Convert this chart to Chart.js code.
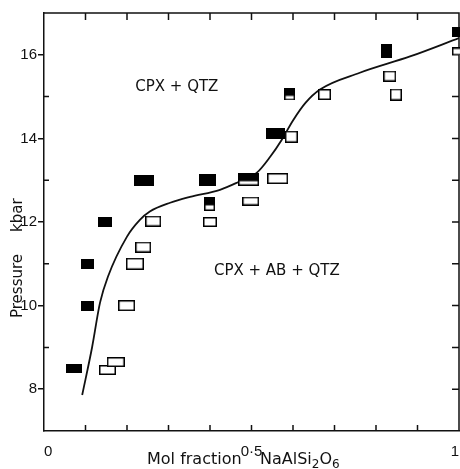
<!DOCTYPE html>
<html>
<head>
<meta charset="utf-8">
<script src="https://cdn.jsdelivr.net/npm/chart.js@4.4.1/dist/chart.umd.min.js"></script>
<style>
  html, body { margin: 0; padding: 0; background: #fff; }
  #wrap { width: 460px; height: 469px; }
</style>
</head>
<body>
<div id="wrap"><canvas id="c" width="460" height="469"></canvas></div>
<script>
// solid boxes (mol fraction NaAlSi2O6, pressure kbar)
var filledX = [0.072, 0.106, 0.106, 0.147, 0.241, 0.395, 0.399, 0.493, 0.558, 0.592, 0.825, 0.995];
var filledP = [8.49, 10.0, 11.0, 12.0, 13.0, 13.0, 12.52, 13.1, 14.11, 15.13, 16.10, 16.55];

// open boxes
var openX = [0.153, 0.173, 0.199, 0.219, 0.239, 0.263, 0.400, 0.399, 0.493, 0.498, 0.563, 0.596, 0.592, 0.676, 0.833, 0.848, 0.995];
var openP = [8.46, 8.65, 10.0, 11.0, 11.4, 12.02, 12.0, 12.35, 12.94, 12.50, 13.04, 14.04, 14.98, 15.05, 15.49, 15.05, 16.08];

// phase boundary
var curveX = [0.092, 0.116, 0.135, 0.154, 0.2, 0.231, 0.255, 0.304, 0.352, 0.424, 0.465, 0.513, 0.545, 0.573, 0.6, 0.63, 0.665, 0.761, 0.882, 1.0];
var curveP = [7.86, 9.01, 10.07, 10.69, 11.65, 12.05, 12.25, 12.46, 12.6, 12.77, 12.94, 13.18, 13.56, 13.97, 14.43, 14.85, 15.17, 15.57, 15.96, 16.4];

var xTicks = [0, 0.5, 1];
var xTickLabels = ['0', '0·5', '1'];
var yTicks = [8, 10, 12, 14, 16];
var yTickLabels = ['8', '10', '12', '14', '16'];

// box sizes in px, same order as the points
var filledSize = [[16, 9], [13, 10], [13, 10], [14, 10], [20, 11], [17, 12], [11, 7], [21, 7], [19, 11], [11, 7], [11, 14], [10, 10]];
var openSize = [[17, 10], [18, 10], [17, 11], [18, 12], [16, 11], [16, 11], [14, 10], [11, 7], [21, 6], [17, 9], [21, 11], [13, 12], [11, 6], [13, 11], [13, 11], [12, 12], [10, 8]];

function makeBox(w, h, filled) {
    var cv = document.createElement('canvas');
    cv.width = w; cv.height = h;
    var g = cv.getContext('2d');
    if (filled) {
        g.fillStyle = '#000';
        g.fillRect(0, 0, w, h);
    } else {
        g.fillStyle = '#fff';
        g.fillRect(0, 0, w, h);
        g.strokeStyle = '#000';
        g.lineWidth = 1.5;
        g.strokeRect(0.75, 0.75, w - 1.5, h - 1.5);
    }
    return cv;
}
var filledBoxes = filledSize.map(function (s) { return makeBox(s[0], s[1], true); });
var openBoxes = openSize.map(function (s) { return makeBox(s[0], s[1], false); });

function pts(xs, ys) {
    return xs.map(function (x, i) { return { x: x, y: ys[i] }; });
}
function findLabel(v, vals, labels) {
    for (var i = 0; i < vals.length; i++) {
        if (Math.abs(vals[i] - v) < 1e-6) return labels[i];
    }
    return '';
}

var black = '#111';
var tickFont = { family: '"Liberation Sans", Arial, sans-serif', size: 15 };

var framePlugin = {
    id: 'frame',
    beforeDatasetsDraw: function (chart) {
        var c = chart.ctx, a = chart.chartArea;
        var xs = chart.scales.x, ys = chart.scales.y;
        c.save();
        c.strokeStyle = black;
        c.lineWidth = 1.5;
        c.beginPath();
        c.moveTo(a.left, a.top); c.lineTo(a.right, a.top); c.lineTo(a.right, a.bottom);
        // inward ticks top and bottom
        xs.ticks.forEach(function (t) {
            if (t.value <= 0 || t.value >= 1) return;
            var px = xs.getPixelForValue(t.value);
            c.moveTo(px, a.top); c.lineTo(px, a.top + 7);
            c.moveTo(px, a.bottom); c.lineTo(px, a.bottom - 6);
        });
        ys.ticks.forEach(function (t) {
            if (t.value < 8 || t.value > 16) return;
            var py = ys.getPixelForValue(t.value);
            c.moveTo(a.right, py); c.lineTo(a.right - 7, py);
            if (yTicks.indexOf(t.value) < 0) {
                c.moveTo(a.left, py); c.lineTo(a.left + 5, py);
            }
        });
        c.stroke();
        c.restore();
    },
    afterDraw: function (chart) {
        var c = chart.ctx;
        var xs = chart.scales.x, ys = chart.scales.y;
        c.save();
        c.fillStyle = black;
        c.font = '15px "DejaVu Sans", sans-serif';
        c.textAlign = 'center';
        c.textBaseline = 'middle';
        c.fillText('CPX + QTZ', xs.getPixelForValue(0.32), ys.getPixelForValue(15.22));
        c.fillText('CPX + AB + QTZ', xs.getPixelForValue(0.561), ys.getPixelForValue(10.83));

        // y title
        c.save();
        c.translate(22, 318);
        c.rotate(-Math.PI / 2);
        c.textAlign = 'left';
        c.textBaseline = 'alphabetic';
        c.fillText('Pressure', 0, 0);
        c.fillText('kbar', 318 - 232, 0);
        c.restore();

        // x title with subscripts
        c.textAlign = 'left';
        c.textBaseline = 'alphabetic';
        var x = 147, base = 464;
        c.font = '16px "DejaVu Sans", sans-serif';
        c.fillText('Mol fraction', x, base);
        x = 260;
        c.fillText('NaAlSi', x, base);
        x += c.measureText('NaAlSi').width;
        c.font = '12px "DejaVu Sans", sans-serif';
        c.fillText('2', x, base + 4);
        x += c.measureText('2').width;
        c.font = '16px "DejaVu Sans", sans-serif';
        c.fillText('O', x, base);
        x += c.measureText('O').width;
        c.font = '12px "DejaVu Sans", sans-serif';
        c.fillText('6', x, base + 4);
        c.restore();
    }
};

new Chart(document.getElementById('c'), {
    data: {
        datasets: [{
            type: 'scatter',
            data: pts(filledX, filledP),
            pointStyle: function (ctx) { return filledBoxes[ctx.dataIndex]; },
            pointRadius: 6,
            clip: 10
        }, {
            type: 'scatter',
            data: pts(openX, openP),
            pointStyle: function (ctx) { return openBoxes[ctx.dataIndex]; },
            pointRadius: 6,
            clip: 10
        }, {
            type: 'line',
            data: pts(curveX, curveP),
            borderColor: black,
            borderWidth: 1.8,
            pointRadius: 0,
            fill: false,
            cubicInterpolationMode: 'monotone'
        }]
    },
    options: {
        responsive: false,
        animation: false,
        devicePixelRatio: 1,
        layout: { autoPadding: false, padding: { top: 13, right: 1, left: 0, bottom: 0 } },
        plugins: { legend: { display: false }, tooltip: { enabled: false } },
        scales: {
            x: {
                type: 'linear', min: 0, max: 1,
                afterBuildTicks: function (s) {
                    var t = [];
                    for (var i = 0; i <= 10; i++) t.push({ value: i / 10 });
                    s.ticks = t;
                },
                afterFit: function (s) {
                    s.height = 38;
                    s.paddingLeft = 0;
                    s.paddingRight = 0;
                },
                grid: { display: false },
                border: { display: true, color: black, width: 1.5 },
                ticks: {
                    autoSkip: false, maxRotation: 0, padding: 4, align: 'inner',
                    color: black, font: tickFont,
                    callback: function (v) { return findLabel(v, xTicks, xTickLabels); }
                }
            },
            y: {
                type: 'linear', min: 7, max: 17,
                afterBuildTicks: function (s) {
                    var t = [];
                    for (var i = 7; i <= 17; i++) t.push({ value: i });
                    s.ticks = t;
                },
                afterFit: function (s) {
                    s.width = 44;
                    s.paddingTop = 0;
                    s.paddingBottom = 0;
                },
                grid: {
                    display: true, drawOnChartArea: false, drawTicks: true, tickLength: 6,
                    lineWidth: 1.5,
                    color: function (c) {
                        return c.tick && yTicks.indexOf(c.tick.value) >= 0 ? black : 'rgba(0,0,0,0)';
                    }
                },
                border: { display: true, color: black, width: 1.5 },
                ticks: {
                    autoSkip: false, padding: 1,
                    color: black, font: tickFont,
                    callback: function (v) { return findLabel(v, yTicks, yTickLabels); }
                }
            }
        }
    },
    plugins: [framePlugin]
});
</script>
</body>
</html>
